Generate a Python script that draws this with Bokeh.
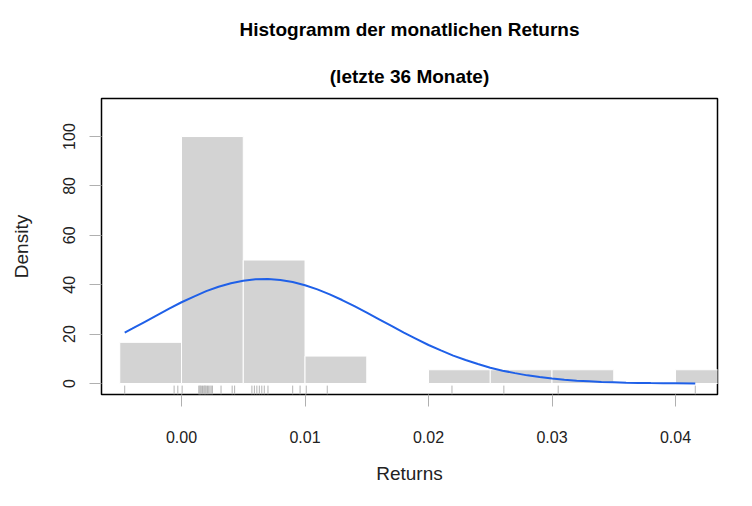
from bokeh.plotting import figure
from bokeh.models import LinearAxis, FixedTicker, Range1d, Title
from bokeh.embed import file_html
from bokeh.resources import INLINE

# ---- data ----
bin_left = [-0.005, 0.000, 0.005, 0.010, 0.015, 0.020, 0.025, 0.030, 0.035, 0.040]
bin_right = [0.000, 0.005, 0.010, 0.015, 0.020, 0.025, 0.030, 0.035, 0.040, 0.045]
density = [16.67, 100.0, 50.0, 11.11, 0.0, 5.56, 5.56, 5.56, 0.0, 5.56]

returns = [-0.0046, -0.0006, -0.0003,
           0.00005, 0.0014, 0.0015, 0.0015, 0.0016, 0.0017, 0.0018, 0.0019, 0.0019,
           0.0020, 0.0021, 0.0022, 0.0023, 0.0024, 0.0025, 0.0032, 0.0041, 0.0043,
           0.0057, 0.0059, 0.0061, 0.0063, 0.0065, 0.0067, 0.0070, 0.0090, 0.0096,
           0.0101, 0.0118,
           0.0219, 0.0261, 0.0305, 0.0416]

curve_x = [-0.0046, -0.004, -0.003, -0.002, -0.001, 0.000, 0.001, 0.002, 0.003,
           0.004, 0.005, 0.006, 0.007, 0.008, 0.009, 0.010, 0.011, 0.012, 0.013,
           0.014, 0.015, 0.016, 0.017, 0.018, 0.019, 0.020, 0.021, 0.022, 0.023,
           0.024, 0.025, 0.026, 0.027, 0.028, 0.029, 0.030, 0.031, 0.032, 0.033,
           0.034, 0.035, 0.036, 0.037, 0.038, 0.039, 0.040, 0.0416]
curve_y = [20.6, 22.2, 24.9, 27.6, 30.3, 32.9, 35.2, 37.4, 39.2,
           40.6, 41.6, 42.2, 42.3, 41.9, 41.1, 39.8, 38.1, 36.1, 33.8,
           31.3, 28.7, 26.0, 23.3, 20.6, 18.1, 15.6, 13.4, 11.3, 9.5,
           7.9, 6.4, 5.2, 4.2, 3.3, 2.6, 2.0, 1.5, 1.15, 0.9,
           0.64, 0.5, 0.34, 0.24, 0.17, 0.12, 0.08, 0.04]

x_ticks = [0.00, 0.01, 0.02, 0.03, 0.04]
x_tick_labels = ["0.00", "0.01", "0.02", "0.03", "0.04"]
y_ticks = [0, 20, 40, 60, 80, 100]

FONT = "Liberation Sans"

p = figure(width=744, height=500, output_backend="svg", toolbar_location=None,
           x_range=Range1d(-0.00648, 0.0434), y_range=Range1d(-4.45, 115.4),
           x_axis_type=None, y_axis_type=None,
           min_border_left=101, min_border_right=27, min_border_top=98, min_border_bottom=106)
p.grid.visible = False
p.background_fill_color = "white"
p.border_fill_color = "white"
p.outline_line_color = "black"
p.outline_line_width = 1.5

p.quad(left=bin_left, right=bin_right, bottom=0, top=density,
       fill_color="#D3D3D3", line_color="white", line_width=1)

p.segment(x0=returns, y0=-4.45, x1=returns, y1=-0.85, line_color="#B4B4B4", line_width=1)

p.line(curve_x, curve_y, line_color="#1F60E8", line_width=2)

xa = LinearAxis(ticker=FixedTicker(ticks=x_ticks),
                major_label_overrides={t: l for t, l in zip(x_ticks, x_tick_labels)},
                axis_label="Returns")
ya = LinearAxis(ticker=FixedTicker(ticks=y_ticks), axis_label="Density",
                major_label_orientation="vertical")
for ax, st, lst in ((xa, 24, 17), (ya, 14, 29)):
    ax.axis_line_color = None
    ax.major_tick_line_color = "#B0B0B0"
    ax.major_tick_out = 12
    ax.major_tick_in = 0
    ax.minor_tick_line_color = None
    ax.major_label_text_font = FONT
    ax.major_label_text_font_size = "16px"
    ax.major_label_text_color = "#222222"
    ax.major_label_standoff = st
    ax.axis_label_text_font = FONT
    ax.axis_label_text_font_size = "19px"
    ax.axis_label_text_font_style = "normal"
    ax.axis_label_text_color = "#222222"
    ax.axis_label_standoff = lst
p.add_layout(xa, "below")
p.add_layout(ya, "left")

sub = Title(text="(letzte 36 Monate)", align="center", text_font=FONT,
            text_font_size="19px", text_font_style="bold", text_color="black", standoff=23)
main = Title(text="Histogramm der monatlichen Returns", align="center", text_font=FONT,
             text_font_size="19px", text_font_style="bold", text_color="black", standoff=26)
p.add_layout(sub, "above")
p.add_layout(main, "above")

open("out.html", "w").write(file_html(p, INLINE))
